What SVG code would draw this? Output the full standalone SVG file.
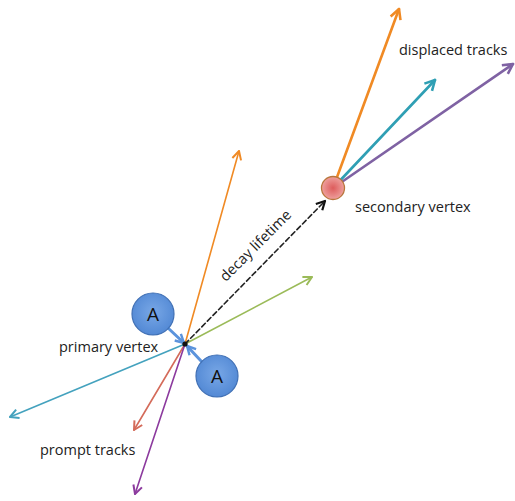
<svg xmlns="http://www.w3.org/2000/svg" width="515" height="501" viewBox="0 0 515 501">
  <style>
    .lbl { font-family: "Open Sans", "Liberation Sans", sans-serif; font-size: 14.5px; fill: #222; }
    .trk { fill: none; stroke-linecap: round; }
    .thin { stroke-width: 1.6; }
    .thick { stroke-width: 2.6; }
    .a-node circle { fill: url(#aFill); stroke: #3f6fb4; stroke-width: 1.2; }
    .a-node text { font-family: "Open Sans", "Liberation Sans", sans-serif; font-size: 19px; fill: #111; text-anchor: middle; }
  </style>
  <defs>
    <radialGradient id="aFill" cx="50%" cy="45%" r="60%">
      <stop offset="0" stop-color="#78a7e6"/>
      <stop offset="1" stop-color="#4f86d3"/>
    </radialGradient>
    <radialGradient id="svFill" cx="50%" cy="50%" r="55%">
      <stop offset="0" stop-color="#dd5c5c"/>
      <stop offset="1" stop-color="#f0a7a4"/>
    </radialGradient>
    <marker id="mOrange" viewBox="0 0 12 12" refX="10.5" refY="6" markerWidth="12" markerHeight="12" markerUnits="userSpaceOnUse" orient="auto">
      <path d="M2,1.5 L10.5,6 L2,10.5" fill="none" stroke="#f08a24" stroke-width="2" stroke-linejoin="round"/>
    </marker>
    <marker id="mGreen" viewBox="0 0 12 12" refX="10.5" refY="6" markerWidth="12" markerHeight="12" markerUnits="userSpaceOnUse" orient="auto">
      <path d="M2,1.5 L10.5,6 L2,10.5" fill="none" stroke="#9bbb59" stroke-width="2" stroke-linejoin="round"/>
    </marker>
    <marker id="mTeal" viewBox="0 0 12 12" refX="10.5" refY="6" markerWidth="12" markerHeight="12" markerUnits="userSpaceOnUse" orient="auto">
      <path d="M2,1.5 L10.5,6 L2,10.5" fill="none" stroke="#44a2be" stroke-width="2" stroke-linejoin="round"/>
    </marker>
    <marker id="mRed" viewBox="0 0 12 12" refX="10.5" refY="6" markerWidth="12" markerHeight="12" markerUnits="userSpaceOnUse" orient="auto">
      <path d="M2,1.5 L10.5,6 L2,10.5" fill="none" stroke="#d46b5a" stroke-width="2" stroke-linejoin="round"/>
    </marker>
    <marker id="mPurple" viewBox="0 0 12 12" refX="10.5" refY="6" markerWidth="12" markerHeight="12" markerUnits="userSpaceOnUse" orient="auto">
      <path d="M2,1.5 L10.5,6 L2,10.5" fill="none" stroke="#8c3a9e" stroke-width="2" stroke-linejoin="round"/>
    </marker>
    <marker id="mPurple2" viewBox="0 0 12 12" refX="10.5" refY="6" markerWidth="14" markerHeight="14" markerUnits="userSpaceOnUse" orient="auto">
      <path d="M2,1.5 L10.5,6 L2,10.5" fill="none" stroke="#7f62a3" stroke-width="2.2" stroke-linejoin="round"/>
    </marker>
    <marker id="mTeal2" viewBox="0 0 12 12" refX="10.5" refY="6" markerWidth="14" markerHeight="14" markerUnits="userSpaceOnUse" orient="auto">
      <path d="M2,1.5 L10.5,6 L2,10.5" fill="none" stroke="#2f9fb4" stroke-width="2.2" stroke-linejoin="round"/>
    </marker>
    <marker id="mOrange2" viewBox="0 0 12 12" refX="10.5" refY="6" markerWidth="14" markerHeight="14" markerUnits="userSpaceOnUse" orient="auto">
      <path d="M2,1.5 L10.5,6 L2,10.5" fill="none" stroke="#f08a24" stroke-width="2.2" stroke-linejoin="round"/>
    </marker>
    <marker id="mBlack" viewBox="0 0 12 12" refX="10.5" refY="6" markerWidth="12" markerHeight="12" markerUnits="userSpaceOnUse" orient="auto">
      <path d="M2,1.5 L10.5,6 L2,10.5" fill="none" stroke="#111" stroke-width="2.2" stroke-linejoin="round"/>
    </marker>
    <marker id="mBlue" viewBox="0 0 12 12" refX="10" refY="6" markerWidth="12" markerHeight="12" markerUnits="userSpaceOnUse" orient="auto">
      <path d="M1.5,1.5 L10,6 L1.5,10.5" fill="none" stroke="#5b93dc" stroke-width="2.4" stroke-linejoin="round"/>
    </marker>
  </defs>

  <!-- tracks and links -->
  <g id="connectors">
    <!-- prompt tracks from the primary vertex -->
    <line class="trk thin" x1="185" y1="344" x2="239" y2="151" stroke="#f08a24" marker-end="url(#mOrange)"/>
    <line class="trk thin" x1="185" y1="344" x2="312" y2="277" stroke="#9bbb59" marker-end="url(#mGreen)"/>
    <line class="trk thin" x1="185" y1="344" x2="10" y2="417" stroke="#44a2be" marker-end="url(#mTeal)"/>
    <line class="trk thin" x1="185" y1="344" x2="134" y2="430" stroke="#d46b5a" marker-end="url(#mRed)"/>
    <line class="trk thin" x1="185" y1="344" x2="135" y2="494" stroke="#8c3a9e" marker-end="url(#mPurple)"/>
    <!-- flight to the secondary vertex -->
    <line class="trk" x1="185" y1="344" x2="325" y2="201" stroke="#222" stroke-width="1.6" stroke-dasharray="5,3" marker-end="url(#mBlack)"/>
    <!-- displaced tracks from the secondary vertex -->
    <line class="trk thick" x1="333" y1="188" x2="399" y2="9" stroke="#f08a24" marker-end="url(#mOrange2)"/>
    <line class="trk thick" x1="333" y1="188" x2="435" y2="80" stroke="#2f9fb4" marker-end="url(#mTeal2)"/>
    <line class="trk thick" x1="333" y1="188" x2="513" y2="64" stroke="#7f62a3" marker-end="url(#mPurple2)"/>
    <!-- beams into the primary vertex -->
    <line class="trk" x1="168" y1="328" x2="184" y2="343" stroke="#5b93dc" stroke-width="3" marker-end="url(#mBlue)"/>
    <line class="trk" x1="202" y1="362" x2="187" y2="346" stroke="#5b93dc" stroke-width="3" marker-end="url(#mBlue)"/>
  </g>

  <g id="primary-vertex">
    <circle cx="185" cy="344" r="2.6" fill="#111"/>
    <text class="lbl" x="59" y="352">primary vertex</text>
  </g>

  <g id="beam-a1" class="a-node">
    <circle cx="153" cy="314" r="21"/>
    <text x="153" y="321">A</text>
  </g>

  <g id="beam-a2" class="a-node">
    <circle cx="217" cy="376" r="21"/>
    <text x="217" y="383">A</text>
  </g>

  <g id="secondary-vertex">
    <circle cx="333" cy="188" r="11.5" fill="url(#svFill)" stroke="#b9763c" stroke-width="1.3"/>
    <text class="lbl" x="355" y="212">secondary vertex</text>
  </g>

  <g id="labels">
    <text class="lbl" x="399" y="55">displaced tracks</text>
    <text class="lbl" x="40" y="455">prompt tracks</text>
    <text class="lbl" transform="translate(259,249) rotate(-45)" text-anchor="middle">decay lifetime</text>
  </g>
</svg>
